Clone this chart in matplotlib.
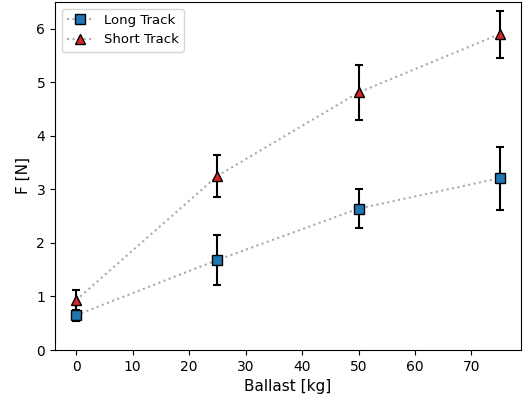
import matplotlib
matplotlib.use("Agg")
import matplotlib.pyplot as plt

# Measured pulling force versus added ballast on two track lengths
ballast = [0, 25, 50, 75]
long_force = [0.65, 1.68, 2.64, 3.21]
long_err = [0.10, 0.47, 0.36, 0.59]
short_force = [0.93, 3.25, 4.81, 5.90]
short_err = [0.20, 0.39, 0.52, 0.44]

fig, ax = plt.subplots(figsize=(5.23, 4.0), dpi=100)

bar_style = dict(fmt="none", ecolor="black", elinewidth=1.5,
                 capsize=3, capthick=1.5, zorder=2)
line_style = dict(linestyle=":", color="#aaaaaa", markersize=7.5,
                  markeredgecolor="black", zorder=3)

ax.errorbar(ballast, long_force, yerr=long_err, **bar_style)
ax.errorbar(ballast, short_force, yerr=short_err, **bar_style)
ax.plot(ballast, long_force, marker="s", markerfacecolor="#1f77b4",
        label="Long Track", **line_style)
ax.plot(ballast, short_force, marker="^", markerfacecolor="#d62728",
        label="Short Track", **line_style)

ax.set_ylim(0, 6.5)
ax.set_xlabel("Ballast [kg]", fontsize=11)
ax.set_ylabel("F [N]", fontsize=11)
ax.legend(loc="upper left", fontsize=9.5)

fig.subplots_adjust(left=0.105, right=0.996, top=0.995, bottom=0.125)
fig.savefig("out.png", dpi=100)
